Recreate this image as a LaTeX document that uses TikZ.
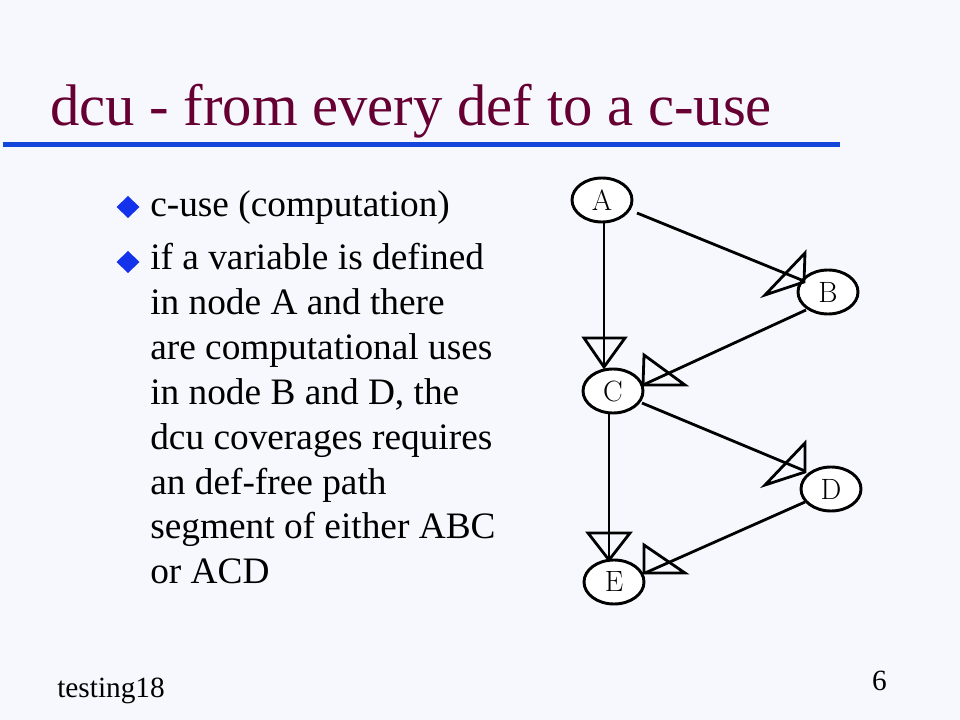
\documentclass[tikz,border=0pt]{standalone}
\usepackage{fontspec}
\newfontfamily\slidefont{Liberation Serif}
\usetikzlibrary{shapes.geometric,calc}
\definecolor{slidebg}{RGB}{247,248,253}
\definecolor{titlecol}{RGB}{102,0,51}
\definecolor{rulecol}{RGB}{20,70,220}
\definecolor{bulletcol}{RGB}{20,50,235}
\tikzset{
  gnode/.style={ellipse,draw=black,fill=white,line width=2.2pt,inner sep=0pt,
    minimum width=45pt,minimum height=33pt,font=\fontsize{22}{26}\selectfont},
  edge/.style={line width=2.1pt,black},
  ahead/.style={line width=2.1pt,black,line join=miter},
  bodytext/.style={anchor=base west,inner sep=0pt,font=\slidefont\fontsize{28}{33.6}\selectfont},
  bulletmark/.style={fill=bulletcol,draw=none}
}
\begin{document}
\begin{tikzpicture}[x=0.75pt,y=-0.75pt]
\fill[slidebg] (0,0) rectangle (960,720);
\useasboundingbox (0,0) rectangle (960,720);
% title
\node[anchor=base west,inner sep=0pt,text=titlecol,font=\slidefont\fontsize{44}{52}\selectfont] (title) at (50,126) {dcu - from every def to a c-use};
\draw[rulecol,line width=3.75pt] (3,144.5) -- (840,144.5);
% bullets
\fill[bulletmark] (128,196) -- (139.5,207) -- (128,218) -- (116.5,207) -- cycle;
\fill[bulletmark] (128,251) -- (139.5,262) -- (128,273) -- (116.5,262) -- cycle;
\node[bodytext] (l1) at (150,217) {c-use (computation)};
\node[bodytext] (l2) at (150,270) {if a variable is defined};
\node[bodytext] (l3) at (150,314.8) {in node A and there};
\node[bodytext] (l4) at (150,359.6) {are computational uses};
\node[bodytext] (l5) at (150,404.4) {in node B and D, the};
\node[bodytext] (l6) at (150,449.2) {dcu coverages requires};
\node[bodytext] (l7) at (150,494) {an def-free path};
\node[bodytext] (l8) at (150,538.8) {segment of either ABC};
\node[bodytext] (l9) at (150,583.6) {or ACD};
% footer
\node[anchor=base west,inner sep=0pt,font=\slidefont\fontsize{22}{26}\selectfont] (foot) at (57,697) {testing18};
\node[anchor=base east,inner sep=0pt,font=\slidefont\fontsize{22}{26}\selectfont] (pnum) at (887,690) {6};
% graph nodes
\node[gnode] (A) at (602,200) {A};
\node[gnode] (B) at (828,292) {B};
\node[gnode] (C) at (613,391) {C};
\node[gnode] (D) at (831,489) {D};
\node[gnode] (E) at (614,582) {E};
% edges
\draw[edge] ($(A)+(35,13)$) -- ($(B)+(-24,-11)$);
\draw[ahead] ($(B)+(-23,-39)$) -- ($(B)+(-63,3)$) -- ($(B)+(-24,-10)$) -- cycle;
\draw[edge] ($(A)+(2,22)$) -- ($(C)+(-9,-24)$);
\draw[ahead] ($(C)+(-29,-53)$) -- ($(C)+(12,-53)$) -- ($(C)+(-9,-24)$) -- cycle;
\draw[edge] ($(B)+(-22,18)$) -- ($(C)+(30,-6)$);
\draw[ahead] ($(C)+(31,-36)$) -- ($(C)+(72,-6)$) -- ($(C)+(30,-6)$) -- cycle;
\draw[edge] ($(C)+(29,12)$) -- ($(D)+(-26,-18)$);
\draw[ahead] ($(D)+(-26,-46)$) -- ($(D)+(-66,-4)$) -- ($(D)+(-26,-17)$) -- cycle;
\draw[edge] ($(C)+(-4,22)$) -- ($(E)+(-5,-22)$);
\draw[ahead] ($(E)+(-26,-49)$) -- ($(E)+(16,-49)$) -- ($(E)+(-5,-22)$) -- cycle;
\draw[edge] ($(D)+(-26,13)$) -- ($(E)+(31,-9)$);
\draw[ahead] ($(E)+(30,-37)$) -- ($(E)+(71,-9)$) -- ($(E)+(30,-9)$) -- cycle;
\end{tikzpicture}
\end{document}
